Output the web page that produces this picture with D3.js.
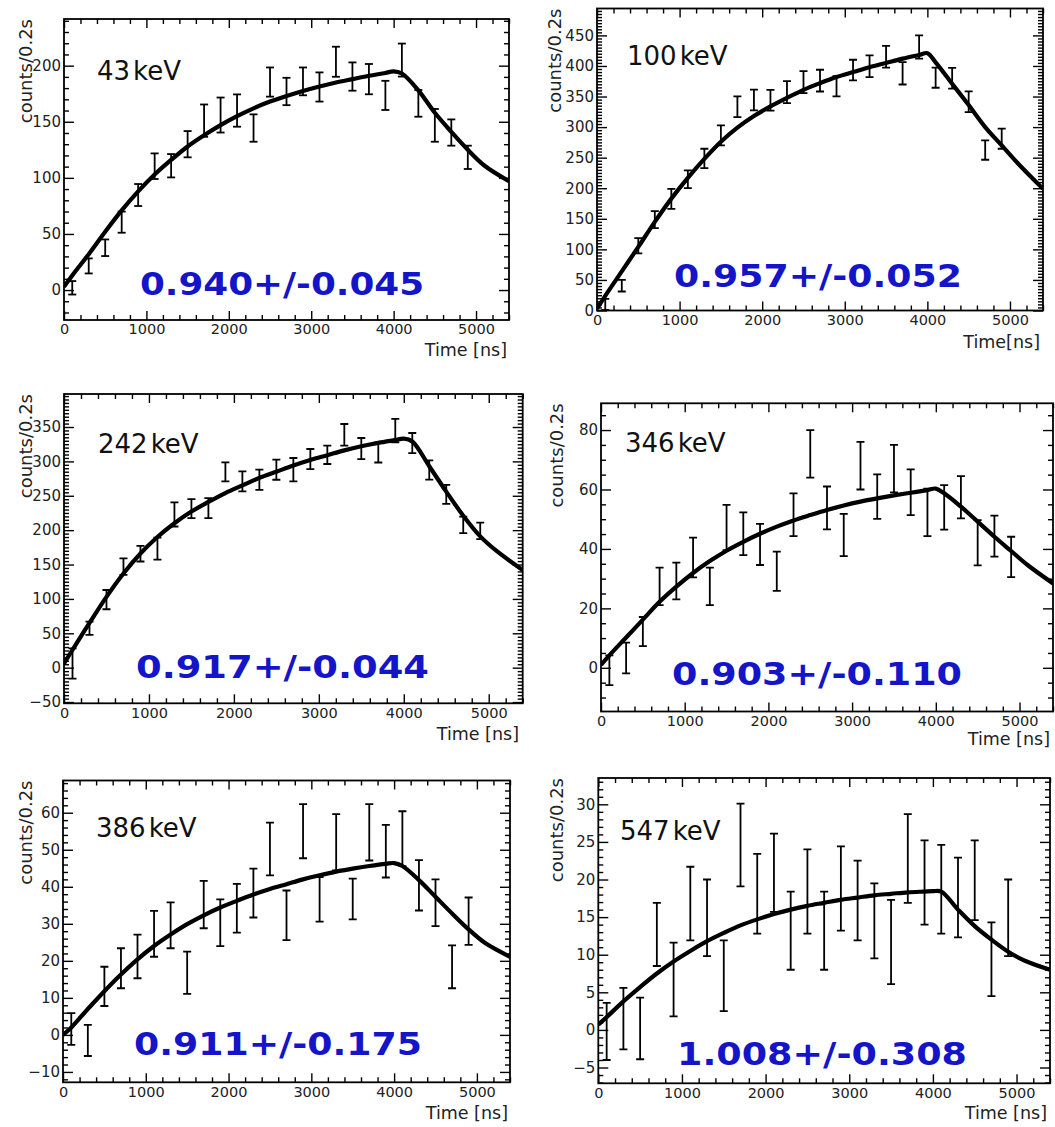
<!DOCTYPE html>
<html><head><meta charset="utf-8">
<script src="https://cdn.jsdelivr.net/npm/d3@7"></script>
<style>body{margin:0;background:#fff}svg{display:block}</style>
</head><body>
<svg id="c" width="1055" height="1127"></svg>
<script>
// ---------- data ----------
const binCenters = [100,300,500,700,900,1100,1300,1500,1700,1900,2100,2300,2500,2700,2900,3100,3300,3500,3700,3900,4100,4300,4500,4700,4900];
const fitTimes = [0,100,300,500,700,900,1100,1300,1500,1700,1900,2100,2300,2500,2700,2900,3100,3300,3500,3700,3900,4000,4100,4300,4500,4700,4900,5100,5400];

const energies = ["43", "100", "242", "346", "386", "547"];
const ratioLabels = ["0.940+/-0.045", "0.957+/-0.052", "0.917+/-0.044", "0.903+/-0.110", "0.911+/-0.175", "1.008+/-0.308"];
const xTitles = ["Time [ns]", "Time[ns]", "Time [ns]", "Time [ns]", "Time [ns]", "Time [ns]"];
const yTitle = "counts/0.2s";
const xTicks = [0,1000,2000,3000,4000,5000];

const counts43 = [2,21.5,37.7,60.5,84.7,110.4,110.8,130,151,156,160,144.4,185.4,177,186,181,203.5,190.3,188,173.5,205,166.4,146.8,140.4,118.3];
const errors43 = [6,6.7,7.4,9.4,9.8,11.4,10.4,11.7,14.4,15.6,14.4,12.2,13,12.2,12.4,13,13.4,12.6,13.5,13,14.7,11.9,14.6,11.7,10.4];
const fit43 = [3,13,32,52,71,88,103,116,128,138,147,155,162,168,173,177.5,181.5,185,188,191,193.5,195,193,178,158,141,125,111,97];
const yTicks43 = [0,50,100,150,200];

const counts100 = [10,40.6,106,148.7,182.7,214.7,248.8,286.4,333.3,344.3,344,357.3,373.7,376,366.8,393.3,399.6,415,388,431,380.8,380,341.5,262.4,281];
const errors100 = [9,9.5,12.5,14,16.4,14.5,15.8,16.4,16.9,17,17,18,18,17.8,16.6,16.9,17.7,17.7,18.3,19,16.4,17,16.9,15.8,16.4];
const fit100 = [3,24,64,104,145,183,217,248,276,299,318,334,348,361,372,382,390,398,405,412,418,421,406,371,336,300,270,240,199];
const yTicks100 = [0,50,100,150,200,250,300,350,400,450];

const counts242 = [6,57.3,99,147,165.8,173,222.8,231.3,232,284.7,270.9,273.3,287.9,287.9,303.4,309.5,338.6,318.7,313,344.7,326.7,287.4,252,207.8,199];
const errors242 = [22,9.7,14,12,11.4,16,17.5,13.8,14.6,13.8,14.6,14.6,14.6,17,14.6,13.3,15.8,15.3,14.6,17,14.6,14,13.8,12,12];
const fit242 = [6,26,65,103,137,166,190,210,227,241,254,265,276,285,294,302,309,316,322,327,331,333,329,293,256,221,191,169,142];
const yTicks242 = [-50,0,50,100,150,200,250,300,350];

const counts346 = [-0.8,3.3,12.2,27.4,29.2,37.1,27.4,47.2,45.1,41.5,32.5,51.5,72,53.8,44.7,68,57.6,67,59.1,52.3,54,57.4,42.1,44.3,37.3];
const errors346 = [5,5.2,4.9,6.3,6.2,6.7,6.3,7.6,7.2,6.9,6.6,7.2,8,7.2,7.1,8,7.5,8,7.7,8,7.5,7.1,7.6,6.9,6.8];
const fit346 = [1,4.2,10.2,16.2,22.2,27.3,31.9,35.9,39.4,42.4,45.1,47.5,49.6,51.4,53.1,54.6,55.9,57.0,58.0,58.9,59.8,60.3,58.7,54.2,49.2,44.1,39.3,34.5,28.4];
const yTicks346 = [0,20,40,60,80];

const counts386 = [1.6,-1.5,13.1,18,21.2,27.3,29.6,16.8,35.2,30.3,34.2,38.3,50.2,32.3,55,36.6,52,36.7,54.7,49.6,53,40.4,35.7,18.4,30.7];
const errors386 = [4.3,4.2,5.3,5.4,5.9,6.2,6.2,5.7,6.4,6.3,6.6,6.6,7.1,6.7,7.3,6,7.6,5.5,7.6,7.1,7.4,6.8,6.3,5.8,6.4];
const fit386 = [0,2.0,7.0,11.8,16.3,20.4,24.0,27.1,29.9,32.3,34.4,36.2,37.9,39.4,40.7,42.0,43.1,44.1,44.9,45.6,46.2,46.4,45.6,41.8,37.3,32.8,28.5,24.8,21.1];
const yTicks386 = [-10,0,10,20,30,40,50,60];

const counts547 = [-0.2,1.5,0.2,12.7,6.7,16.8,14.9,7.2,24.6,18.1,20.9,13.2,18.4,13.2,18.8,17.2,14.5,11.7,22.8,19.6,18.7,17.6,19.9,9.4,14.9];
const errors547 = [3.8,4.1,4.1,4.2,4.9,4.9,5.1,4.7,5.5,5.3,5.2,5.2,5.6,5.2,5.6,5.3,5,5.6,5.9,5.6,5.9,5.3,5.3,4.9,5.1];
const fit547 = [0.7,1.7,3.8,5.7,7.5,9.1,10.5,11.8,12.9,13.9,14.7,15.4,16.0,16.5,16.9,17.3,17.6,17.9,18.1,18.3,18.4,18.45,18.4,16.0,13.8,12.0,10.4,9.2,8.0];
const yTicks547 = [-5,0,5,10,15,20,25,30];

// ---------- layout ----------
const panels = [
  {counts:counts43, errors:errors43, fit:fit43, yTicks:yTicks43, yDom:[-26.7,241.6], yMinor:10,
   box:[64,19,509,320], ylabX:32, keV:[97,80], ratio:[140,424,295], xt:[507,356]},
  {counts:counts100, errors:errors100, fit:fit100, yTicks:yTicks100, yDom:[0,494], yMinor:5,
   box:[597,8.5,1043,310.5], ylabX:561, keV:[627,65], ratio:[674,962,287], xt:[1040,348]},
  {counts:counts242, errors:errors242, fit:fit242, yTicks:yTicks242, yDom:[-51.8,398], yMinor:5,
   box:[64,394,522.7,703.3], ylabX:32, keV:[98,453], ratio:[136,429,678], xt:[519,740]},
  {counts:counts346, errors:errors346, fit:fit346, yTicks:yTicks346, yDom:[-14.7,89], yMinor:5,
   box:[601,403.3,1053,711.5], ylabX:563, keV:[625,452], ratio:[672,962,685], xt:[1050,745]},
  {counts:counts386, errors:errors386, fit:fit386, yTicks:yTicks386, yDom:[-12.8,68.7], yMinor:2,
   box:[63,780.5,510,1082.3], ylabX:32, keV:[96,837], ratio:[134,422,1055], xt:[508,1119]},
  {counts:counts547, errors:errors547, fit:fit547, yTicks:yTicks547, yDom:[-7.1,33.5], yMinor:1,
   box:[598.3,778,1050,1083.3], ylabX:563, keV:[620,840], ratio:[677,967,1065], xt:[1047,1119]}
];

const svg = d3.select("#c");
const FONT = "DejaVu Sans, Liberation Sans, sans-serif";

panels.forEach((p, i) => {
  const [x0,y0,x1,y1] = p.box;
  const x = d3.scaleLinear().domain([0,5400]).range([x0,x1]);
  const y = d3.scaleLinear().domain(p.yDom).range([y1,y0]);
  const g = svg.append("g");

  const xMinor = d3.range(0, 5401, 200).filter(v => v % 1000 !== 0);
  const yMinor = d3.range(Math.ceil(p.yDom[0]/p.yMinor)*p.yMinor, p.yDom[1], p.yMinor)
                   .filter(v => !p.yTicks.some(t => Math.abs(t - v) < 1e-6));

  const styleAxis = (sel, fs) => {
    sel.select(".domain").remove();
    sel.selectAll("line").attr("stroke","#000").attr("stroke-width",1.4);
    sel.selectAll("text").attr("fill","#222").style("font-family",FONT).style("font-size",(fs||15)+"px");
  };
  // bottom
  g.append("g").attr("transform",`translate(0,${y1})`)
    .call(d3.axisBottom(x).tickValues(xTicks).tickSize(-9).tickPadding(4).tickFormat(d3.format("d"))).call(styleAxis, 14.5);
  g.append("g").attr("transform",`translate(0,${y1})`)
    .call(d3.axisBottom(x).tickValues(xMinor).tickSize(-5).tickFormat("")).call(styleAxis);
  // top
  g.append("g").attr("transform",`translate(0,${y0})`)
    .call(d3.axisTop(x).tickValues(xTicks).tickSize(-9).tickFormat("")).call(styleAxis);
  g.append("g").attr("transform",`translate(0,${y0})`)
    .call(d3.axisTop(x).tickValues(xMinor).tickSize(-5).tickFormat("")).call(styleAxis);
  // left
  g.append("g").attr("transform",`translate(${x0},0)`)
    .call(d3.axisLeft(y).tickValues(p.yTicks).tickSize(-10).tickPadding(3).tickFormat(d3.format("d"))).call(styleAxis, 15);
  g.append("g").attr("transform",`translate(${x0},0)`)
    .call(d3.axisLeft(y).tickValues(yMinor).tickSize(-5).tickFormat("")).call(styleAxis);
  // right
  g.append("g").attr("transform",`translate(${x1},0)`)
    .call(d3.axisRight(y).tickValues(p.yTicks).tickSize(-10).tickFormat("")).call(styleAxis);
  g.append("g").attr("transform",`translate(${x1},0)`)
    .call(d3.axisRight(y).tickValues(yMinor).tickSize(-5).tickFormat("")).call(styleAxis);

  // frame
  g.append("rect").attr("x",x0).attr("y",y0).attr("width",x1-x0).attr("height",y1-y0)
    .attr("fill","none").attr("stroke","#000").attr("stroke-width",1.8);

  // clip
  const cid = "clip"+i;
  svg.append("clipPath").attr("id",cid).append("rect")
    .attr("x",x0).attr("y",y0).attr("width",x1-x0).attr("height",y1-y0);
  const inner = g.append("g").attr("clip-path",`url(#${cid})`);

  // error bars
  const pts = binCenters.map((t,k) => ({t, v:p.counts[k], e:p.errors[k]}));
  const eb = inner.selectAll("g.eb").data(pts).join("g").attr("class","eb")
    .attr("stroke","#000").attr("stroke-width",1.8);
  eb.append("line").attr("x1",d=>x(d.t)).attr("x2",d=>x(d.t))
    .attr("y1",d=>y(d.v-d.e)).attr("y2",d=>y(d.v+d.e));
  eb.append("line").attr("x1",d=>x(d.t)-4).attr("x2",d=>x(d.t)+4)
    .attr("y1",d=>y(d.v+d.e)).attr("y2",d=>y(d.v+d.e));
  eb.append("line").attr("x1",d=>x(d.t)-4).attr("x2",d=>x(d.t)+4)
    .attr("y1",d=>y(d.v-d.e)).attr("y2",d=>y(d.v-d.e));

  // fit curve
  const line = d3.line().x(d=>x(d[0])).y(d=>y(d[1])).curve(d3.curveCatmullRom.alpha(0.5));
  inner.append("path").datum(fitTimes.map((t,k)=>[t,p.fit[k]]))
    .attr("d",line).attr("fill","none").attr("stroke","#000").attr("stroke-width",4.2)
    .attr("stroke-linejoin","round");

  // energy label
  const kt = g.append("text").attr("x",p.keV[0]).attr("y",p.keV[1])
    .style("font-family",FONT).style("font-size","26px").attr("fill","#111");
  kt.append("tspan").text(energies[i]);
  kt.append("tspan").attr("dx",3).text("keV");

  // ratio label
  g.append("text").attr("x",p.ratio[0]).attr("y",p.ratio[2])
    .attr("textLength",p.ratio[1]-p.ratio[0]).attr("lengthAdjust","spacingAndGlyphs")
    .style("font-family",FONT).style("font-size","32px").style("font-weight","bold")
    .attr("fill","#1414c8").text(ratioLabels[i]);

  // axis titles
  g.append("text").attr("x",p.xt[0]).attr("y",p.xt[1]).attr("text-anchor","end")
    .style("font-family",FONT).style("font-size","17.5px").attr("fill","#222").text(xTitles[i]);
  g.append("text").attr("transform",`translate(${p.ylabX},${y0}) rotate(-90)`)
    .attr("text-anchor","end").style("font-family",FONT).style("font-size","18px")
    .attr("fill","#222").text(yTitle);
});
</script>
</body></html>
